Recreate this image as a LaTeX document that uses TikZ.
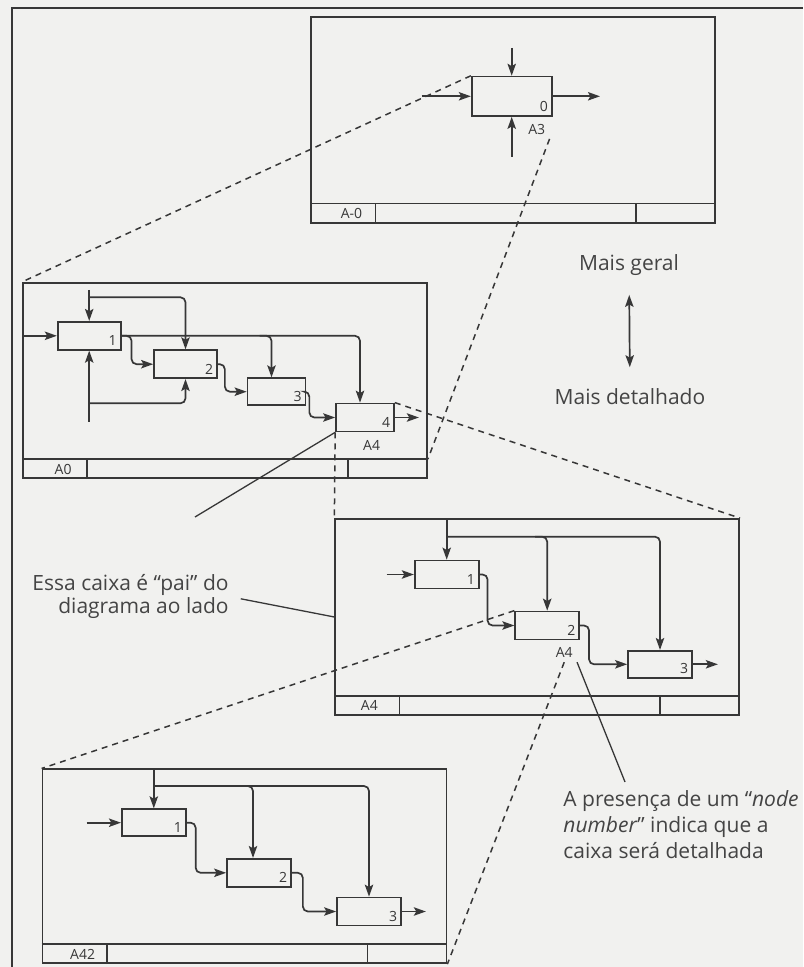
\documentclass[tikz,border=0pt]{standalone}
\usepackage{fontspec}
\setmainfont{Open Sans}
\definecolor{InkGray}{RGB}{55, 55, 55}
\definecolor{TextGray}{RGB}{68, 68, 68}
\definecolor{PaperGray}{RGB}{241, 241, 239}
\usepackage{tikz}
\usetikzlibrary{arrows.meta, calc}

\begin{document}
\begin{tikzpicture}[x=0.5pt, y=-0.5pt, font=\fontsize{10.5}{11.5}\selectfont,
  sheet/.style={draw=InkGray, line width=0.85pt, minimum width=202pt, inner sep=0pt},
  fn/.style={draw=InkGray, line width=0.85pt, minimum width=31.5pt, minimum height=14pt, inner sep=0pt},
  flow/.style={draw=InkGray, line width=0.85pt, rounded corners=2.5pt, -{Stealth[length=6pt, width=4.2pt, inset=1.2pt]}},
  link/.style={draw=InkGray, line width=0.75pt, dash pattern=on 3pt off 2.5pt},
  ptr/.style={draw=InkGray, line width=0.65pt},
  numtxt/.style={font=\fontsize{7}{8}\selectfont, text=InkGray, inner sep=2.2pt},
  note/.style={text=TextGray, inner sep=0pt}]
\useasboundingbox (0,0) rectangle (803,967);
\fill[PaperGray] (0,0) rectangle (803,967);
\draw[InkGray, line width=1.3pt] (12,967) -- (12,8) -- (803,8);
\foreach \n/\cx/\cy/\h/\lx/\t in {sTop/513.3/120/102.7pt/20.5pt/A-0, sA0/225/380.5/97.8pt/20.5pt/A0, sA4/537.2/617/98pt/17.5pt/A4, sA42/244.5/866.3/97pt/20.5pt/A42} {
  \node[sheet, minimum height=\h] (\n) at (\cx,\cy) {};
  \draw[InkGray, line width=0.85pt] ([yshift=10pt]\n.south west) -- ([yshift=10pt]\n.south east)
    ([xshift=32.5pt]\n.south west) -- ([xshift=32.5pt, yshift=10pt]\n.south west)
    ([xshift=-40pt]\n.south east) -- ([xshift=-40pt, yshift=10pt]\n.south east);
  \node[numtxt, inner sep=0pt] (\n-id) at ([xshift=\lx, yshift=5pt]\n.south west) {\t};
}
\node[fn, minimum width=40pt, minimum height=19.7pt] (b0) at (511.7,96.3) {};
\node[fn] (a1) at (89.2,335.8) {};
\node[fn] (a2) at (185.5,364.2) {};
\node[fn, minimum width=29pt, minimum height=13.5pt] (a3) at (276.5,391.7) {};
\node[fn, minimum width=29pt] (a4) at (365,417.5) {};
\node[fn, minimum width=32pt] (m1) at (446.7,574.5) {};
\node[fn, minimum width=32pt] (m2) at (547.2,625.5) {};
\node[fn, minimum width=32pt, minimum height=13.5pt] (m3) at (660,664.3) {};
\node[fn, minimum width=32pt, minimum height=13.5pt] (k1) at (153.8,822.7) {};
\node[fn, minimum width=32pt] (k2) at (259,872.8) {};
\node[fn, minimum width=32pt] (k3) at (369,911.5) {};
\foreach \b/\k in {b0/0, a1/1, a2/2, a3/3, a4/4, m1/1, m2/2, m3/3, k1/1, k2/2, k3/3}
  \node[numtxt, anchor=south east] (\b-num) at (\b.south east) {\k};
\foreach \b/\k in {b0/A3, m2/A4}
  \node[numtxt, anchor=north east, inner sep=2pt] (\b-ref) at ([xshift=-1.5pt, yshift=-1.5pt]\b.south east) {\k};
\node[numtxt, anchor=north east] (a4-ref) at ([xshift=-5pt, yshift=-1.5pt]a4.south east) {A4};

\coordinate (b0in) at (421.7,96.3);
\coordinate (b0out) at (600,96.3);
\coordinate (b0ctl) at (b0.north |- 0,48);
\coordinate (b0mech) at (b0.south |- 0,156.7);
\draw[flow] (b0in) -- (b0.west);
\draw[flow] (b0.east) -- (b0out);
\draw[flow] (b0ctl) -- (b0.north);
\draw[flow] (b0mech) -- (b0.south);

\coordinate (a0ctl) at (a1.north |- 0,290);
\coordinate (a0mech) at (a1.south |- 0,421.7);
\coordinate (a0out) at ($(a4.east)+(24,0)$);
\draw[flow] (sA0.west |- a1.west) -- (a1.west);
\draw[flow] (a0ctl) -- (a1.north);
\draw[flow] (a0ctl |- 0,297.3) -| (a2.north);
\draw[flow] (a0mech) -- (a1.south);
\draw[flow] (a0mech |- 0,403.3) -| (a2.south);
\draw[flow] (a1.east) -| ($(a4.north)+(-5,0)$);
\draw[flow] ($(a3.north |- a1.east)+(-17,0)$) -| ($(a3.north)+(-5,0)$);
\draw[flow] (a1.east) -- ++(10,0) |- (a2.west);
\draw[flow] (a2.east) -- ++(7,0) |- (a3.west);
\draw[flow] (a3.east) -- ++(3,0) |- (a4.west);
\draw[flow] (a4.east) -- (a0out);

\coordinate (m0in) at (386.7,574.5);
\coordinate (m0out) at ($(m3.east)+(25,0)$);
\draw[flow] (m0in) -- (m1.west);
\draw[flow] (m1.north |- sA4.north) -- (m1.north);
\draw[flow] (m1.north |- 0,536.7) -| (m3.north);
\draw[flow] ($(m2.north |- 0,536.7)+(-12,0)$) -| (m2.north);
\draw[flow] (m1.east) -- ++(8,0) |- (m2.west);
\draw[flow] (m2.east) -- ++(9,0) |- (m3.west);
\draw[flow] (m3.east) -- (m0out);

\coordinate (k0in) at (86.7,822.7);
\coordinate (k0out) at ($(k3.east)+(24,0)$);
\draw[flow] (k0in) -- (k1.west);
\draw[flow] (k1.north |- sA42.north) -- (k1.north);
\draw[flow] (k1.north |- 0,786) -| (k3.north);
\draw[flow] ($(k2.north |- 0,786)+(-18,0)$) -| ($(k2.north)+(-6,0)$);
\draw[flow] (k1.east) -- ++(9,0) |- (k2.west);
\draw[flow] (k2.east) -- ++(11,0) |- (k3.west);
\draw[flow] (k3.east) -- (k0out);

\draw[link] (b0.north west) -- (sA0.north west);
\draw[link] (b0-ref.south east) -- ([yshift=10pt]sA0.south east);
\draw[link] (a4.north east) -- (sA4.north east);
\draw[link] (a4.south west) -- (sA4.north west);
\draw[link] (m2.north west) -- (sA42.north west);
\draw[link] (m2-ref.south) -- (sA42.south east);

\node[note] (geral) at (629,265) {Mais geral};
\node[note] (detal) at (630,396.7) {Mais detalhado};
\draw[InkGray, line width=0.85pt, {Stealth[length=6pt, width=4.2pt, inset=1.2pt]}-{Stealth[length=6pt, width=4.2pt, inset=1.2pt]}, shorten <=9.5pt, shorten >=10.5pt] (geral) -- (detal);

\coordinate (a4tip) at (195,517);
\draw[ptr] (a4.south west) -- (a4tip);
\node[note, anchor=east, align=right] (pai) at (229,596.5) {Essa caixa é “pai” do\\diagrama ao lado};
\draw[ptr, shorten <=6pt] (pai.east) -- (sA4.west |- 0,617);
\node[note, anchor=north west, align=left, font=\fontsize{10.5}{13}\selectfont] (presenca) at (563,790) {A presença de um “\textit{node}\\\textit{number}” indica que a\\caixa será detalhada};
\draw[ptr] (m2-ref.south east) -- ($(presenca.north west)+(62,-8)$);
\end{tikzpicture}
\end{document}
